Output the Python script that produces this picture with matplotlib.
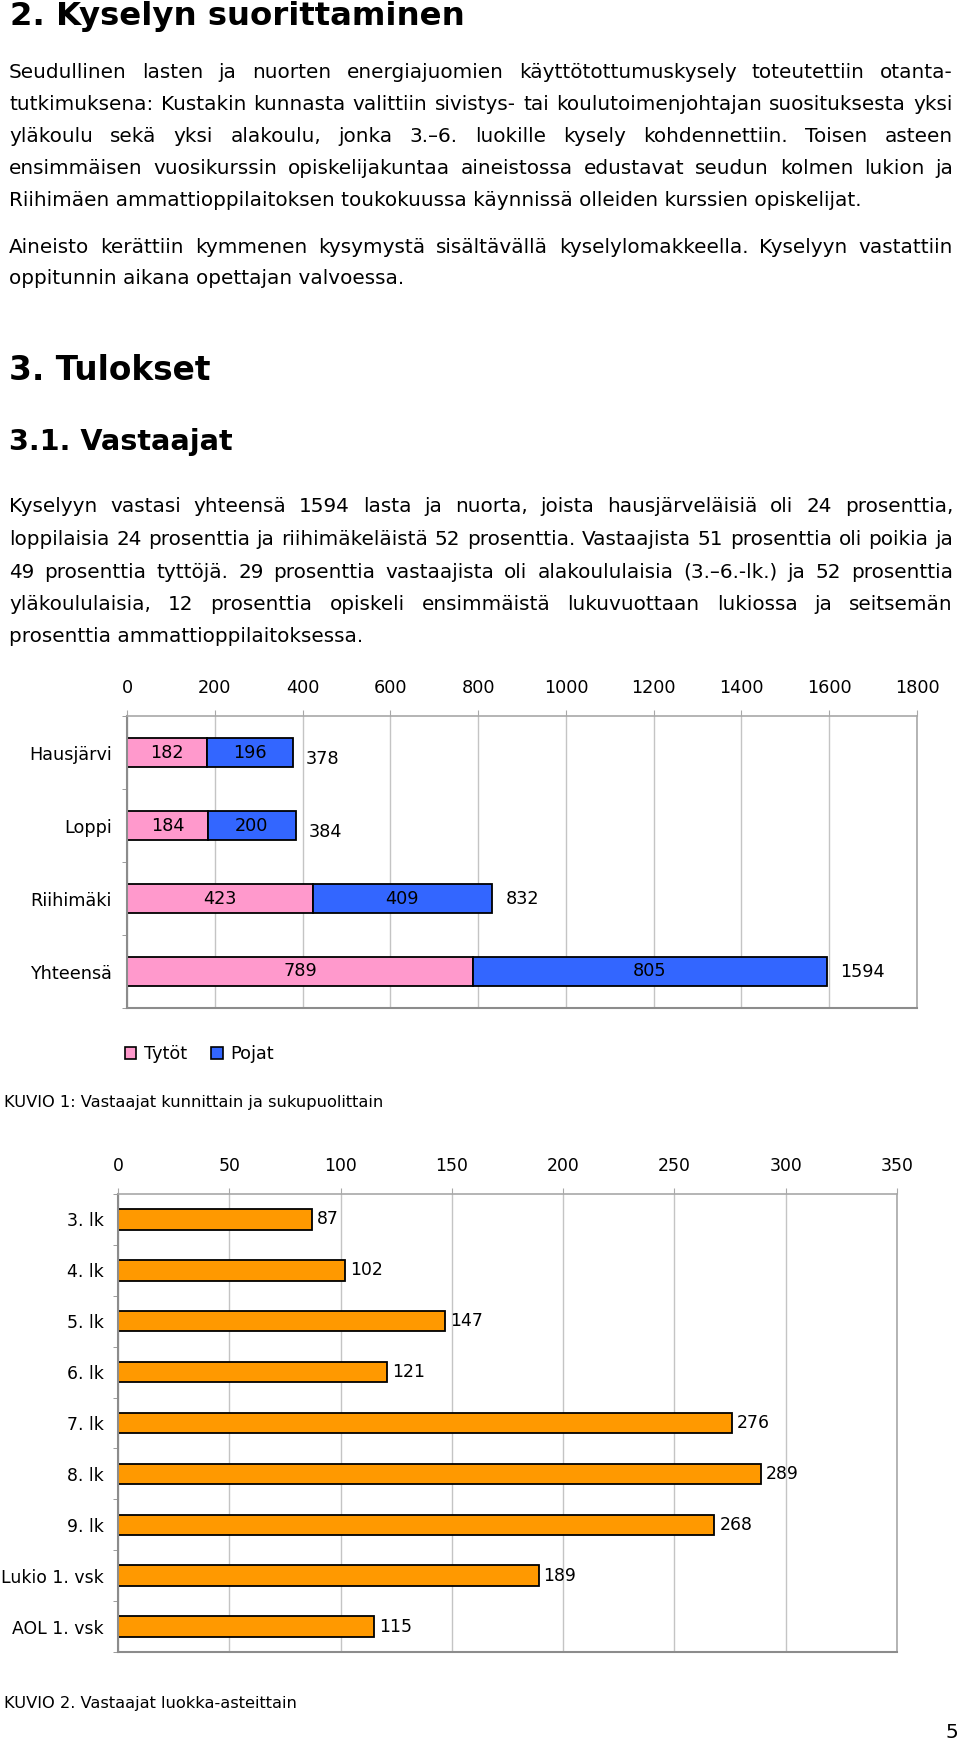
import matplotlib
matplotlib.use('Agg')
import matplotlib.pyplot as plt
from matplotlib.patches import Patch
import numpy as np

# ---------------- data ----------------
kunnat = ['Hausjärvi', 'Loppi', 'Riihimäki', 'Yhteensä']
tytot = [182, 184, 423, 789]
pojat = [196, 200, 409, 805]
yhteensa = [378, 384, 832, 1594]
sarjat = ['Tytöt', 'Pojat']
x1_ticks = [0, 200, 400, 600, 800, 1000, 1200, 1400, 1600, 1800]

luokat = ['3. lk', '4. lk', '5. lk', '6. lk', '7. lk', '8. lk', '9. lk',
          'Lukio 1. vsk', 'AOL 1. vsk']
maarat = [87, 102, 147, 121, 276, 289, 268, 189, 115]
x2_ticks = [0, 50, 100, 150, 200, 250, 300, 350]

otsikko1 = '2. Kyselyn suorittaminen'
kappale1 = [
    'Seudullinen lasten ja nuorten energiajuomien käyttötottumuskysely toteutettiin otanta-',
    'tutkimuksena: Kustakin kunnasta valittiin sivistys- tai koulutoimenjohtajan suosituksesta yksi',
    'yläkoulu sekä yksi alakoulu, jonka 3.–6. luokille kysely kohdennettiin. Toisen asteen',
    'ensimmäisen vuosikurssin opiskelijakuntaa aineistossa edustavat seudun kolmen lukion ja',
    'Riihimäen ammattioppilaitoksen toukokuussa käynnissä olleiden kurssien opiskelijat.',
]
kappale2 = [
    'Aineisto kerättiin kymmenen kysymystä sisältävällä kyselylomakkeella. Kyselyyn vastattiin',
    'oppitunnin aikana opettajan valvoessa.',
]
otsikko2 = '3. Tulokset'
otsikko3 = '3.1. Vastaajat'
kappale3 = [
    'Kyselyyn vastasi yhteensä 1594 lasta ja nuorta, joista hausjärveläisiä oli 24 prosenttia,',
    'loppilaisia 24 prosenttia ja riihimäkeläistä 52 prosenttia. Vastaajista 51 prosenttia oli poikia ja',
    '49 prosenttia tyttöjä. 29 prosenttia vastaajista oli alakoululaisia (3.–6.-lk.) ja 52 prosenttia',
    'yläkoululaisia, 12 prosenttia opiskeli ensimmäistä lukuvuottaan lukiossa ja seitsemän',
    'prosenttia ammattioppilaitoksessa.',
]
kuvio1 = 'KUVIO 1: Vastaajat kunnittain ja sukupuolittain'
kuvio2 = 'KUVIO 2. Vastaajat luokka-asteittain'
sivu = '5'

# ---------------- style ----------------
PINK = '#FF99CC'
BLUE = '#3366FF'
ORANGE = '#FF9900'
GRID = '#c4c4c4'
SPINE_DARK = '#8c8c8c'
SPINE_LIGHT = '#a8a8a8'

W, H = 960, 1744
plt.rcParams['font.family'] = ['DejaVu Sans']

fig = plt.figure(figsize=(W / 100, H / 100), dpi=100)
renderer = fig.canvas.get_renderer()


def fx(x):
    return x / W


def fy(y):
    return 1 - y / H


def measure(s, size, weight='normal'):
    t = fig.text(0, 0, s, fontsize=size, fontweight=weight)
    w = t.get_window_extent(renderer=renderer).width
    t.remove()
    return w


def fit(s, target, weight='normal'):
    return 20 * target / measure(s, 20, weight)


LEFT, RIGHT = 9, 953
body_size = fit(kappale1[-1], 850)


def draw_line(s, y, size, justify):
    if not justify:
        fig.text(fx(LEFT), fy(y), s, fontsize=size, va='center', ha='left')
        return
    words = s.split()
    ws = [measure(w, size) for w in words]
    gap = (RIGHT - LEFT - sum(ws)) / (len(words) - 1)
    x = LEFT
    for w, wd in zip(words, ws):
        fig.text(fx(x), fy(y), w, fontsize=size, va='center', ha='left')
        x += wd + gap


def draw_para(lines, y0, step):
    for i, s in enumerate(lines):
        draw_line(s, y0 + i * step, body_size, i < len(lines) - 1)


# headings
fig.text(fx(10), fy(17), otsikko1, fontsize=fit(otsikko1, 456, 'bold'),
         fontweight='bold', va='center', ha='left')
fig.text(fx(9), fy(370), otsikko2, fontsize=fit(otsikko2, 202, 'bold'),
         fontweight='bold', va='center', ha='left')
fig.text(fx(9), fy(442), otsikko3, fontsize=fit(otsikko3, 224, 'bold'),
         fontweight='bold', va='center', ha='left')

draw_para(kappale1, 72, 32)
draw_para(kappale2, 247, 32)
draw_para(kappale3, 507, 32.5)

cap_size = fit(kuvio1, 379)
fig.text(fx(4), fy(1102), kuvio1, fontsize=cap_size, va='center', ha='left')
fig.text(fx(4), fy(1703), kuvio2, fontsize=cap_size, va='center', ha='left')
fig.text(fx(958), fy(1732), sivu, fontsize=body_size, va='center', ha='right')

chart1_size = fit('Hausjärvi', 83)
chart2_size = fit('Lukio 1. vsk', 102)


def style_axes(ax, n, size, ypad):
    ax.set_ylim(n - 0.5, -0.5)
    ax.xaxis.set_ticks_position('top')
    ax.tick_params(axis='x', which='major', top=True, bottom=False,
                   labeltop=True, labelbottom=False, length=4,
                   color=SPINE_LIGHT, pad=10, labelsize=size)
    ax.set_yticks(np.arange(n))
    ax.set_yticks(np.arange(-0.5, n, 1.0), minor=True)
    ax.tick_params(axis='y', which='major', length=0, pad=ypad, labelsize=size)
    ax.tick_params(axis='y', which='minor', length=3.6, color=SPINE_DARK,
                   direction='out')
    ax.xaxis.grid(True, color=GRID, lw=1)
    ax.set_axisbelow(True)
    for side in ('left', 'bottom'):
        ax.spines[side].set_color(SPINE_DARK)
        ax.spines[side].set_linewidth(1.5)
    for side in ('top', 'right'):
        ax.spines[side].set_color(SPINE_LIGHT)
        ax.spines[side].set_linewidth(1.2)


# ---------------- chart 1 ----------------
ax1 = fig.add_axes([fx(127), fy(1008), (917 - 127) / W, (1008 - 716) / H])
y1 = np.arange(len(kunnat))
c_t = ax1.barh(y1, tytot, height=0.4, color=PINK, edgecolor='black', lw=1.3,
               label=sarjat[0])
c_p = ax1.barh(y1, pojat, left=tytot, height=0.4, color=BLUE, edgecolor='black',
               lw=1.3, label=sarjat[1])
ax1.set_xlim(x1_ticks[0], x1_ticks[-1])
ax1.set_xticks(x1_ticks)
style_axes(ax1, len(kunnat), chart1_size, 10.8)
ax1.set_yticklabels(kunnat)
ax1.bar_label(c_t, label_type='center', fontsize=chart1_size)
ax1.bar_label(c_p, label_type='center', fontsize=chart1_size)
total_nudge_pt = [-5, -5, 0, 0]
for i, (tot, nd) in enumerate(zip(yhteensa, total_nudge_pt)):
    ax1.annotate(str(tot), xy=(tot, i), xytext=(9.5, nd), textcoords='offset points',
                 ha='left', va='center', fontsize=chart1_size)

fig.legend(handles=[Patch(facecolor=PINK, edgecolor='black', lw=1.2),
                    Patch(facecolor=BLUE, edgecolor='black', lw=1.2)],
           labels=sarjat, loc='center left',
           bbox_to_anchor=(fx(125), fy(1054)), frameon=False, ncol=2,
           handlelength=0.65, handleheight=0.65, handletextpad=0.4,
           columnspacing=1.4, borderpad=0, borderaxespad=0,
           fontsize=chart1_size)

# ---------------- chart 2 ----------------
ax2 = fig.add_axes([fx(118), fy(1652), (897 - 118) / W, (1652 - 1194) / H])
y2 = np.arange(len(luokat))
c2 = ax2.barh(y2, maarat, height=0.4, color=ORANGE, edgecolor='black', lw=1.3)
ax2.set_xlim(x2_ticks[0], x2_ticks[-1])
ax2.set_xticks(x2_ticks)
style_axes(ax2, len(luokat), chart2_size, 10)
ax2.set_yticklabels(luokat)
ax2.bar_label(c2, padding=3.5, fontsize=chart2_size)

fig.savefig('out.png', dpi=100)
